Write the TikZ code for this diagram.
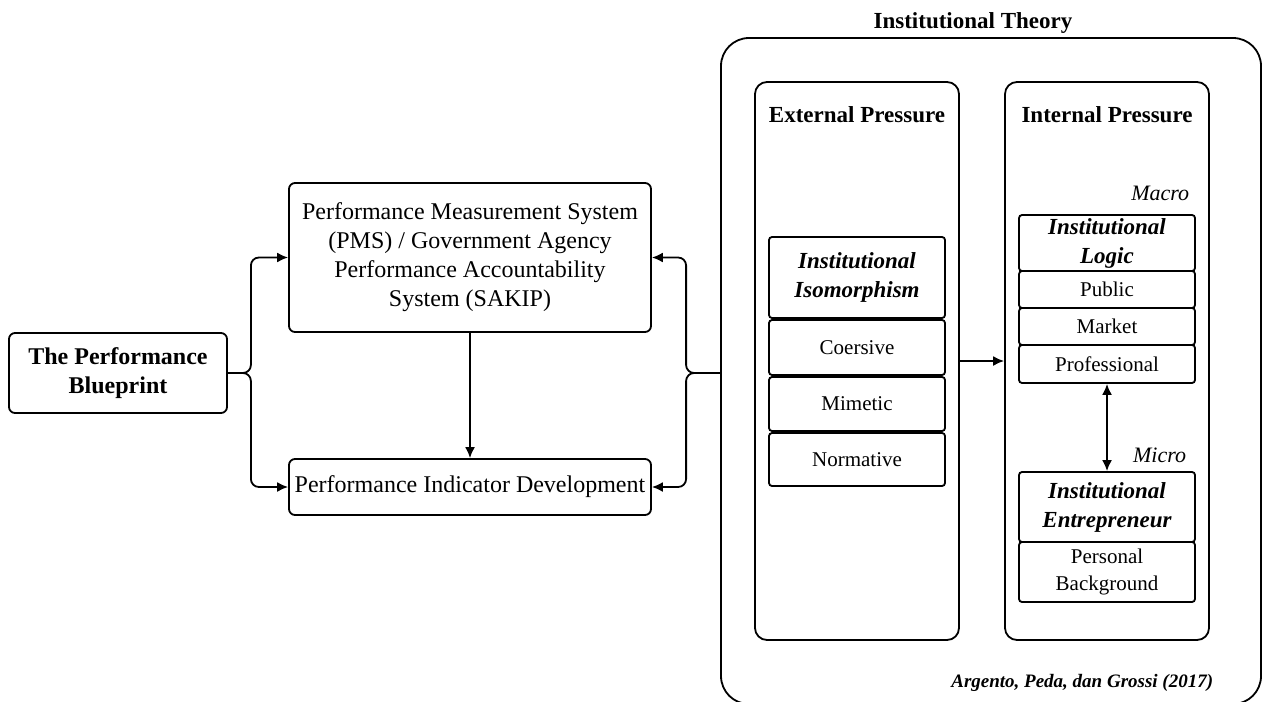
\documentclass[tikz,border=0pt]{standalone}
\usepackage{fontspec}
\setmainfont{Liberation Serif}
\usetikzlibrary{arrows.meta}
\begin{document}
\begin{tikzpicture}[x=0.5pt,y=-0.5pt,
  line width=0.9pt,
  every node/.style={inner sep=0pt, align=center},
  roundbox/.style={draw, rounded corners=3pt},
  panel/.style={draw, rounded corners=6pt, minimum width=102pt, minimum height=279pt},
  cell/.style={draw, rounded corners=1.5pt, minimum width=88pt},
  big/.style={font=\fontsize{12}{14.5}\selectfont},
  head/.style={font=\fontsize{11.5}{14.5}\selectfont\bfseries},
  keyterm/.style={font=\fontsize{11.5}{14.5}\selectfont\bfseries\itshape},
  small/.style={font=\fontsize{10.5}{13.5}\selectfont},
  level/.style={font=\fontsize{11}{13}\selectfont\itshape, anchor=east},
  arr/.style={-{Latex[length=5.5pt,width=5pt]}},
  dblarr/.style={{Latex[length=5.5pt,width=5pt]}-{Latex[length=5.5pt,width=5pt]}},
  bracket/.style={arr, rounded corners=4pt}
]
\useasboundingbox (0,0) rectangle (1262,701);

% left part: blueprint and the two performance boxes
\node[roundbox, minimum width=109pt, minimum height=40pt,
      font=\fontsize{12}{14.5}\selectfont\bfseries] (bp) at (118,373)
  {The Performance\\Blueprint};
\node[roundbox, big, minimum width=181pt, minimum height=74.5pt] (pms) at (470,257.5)
  {Performance Measurement System\\(PMS) / Government Agency\\Performance Accountability\\System (SAKIP)};
\node[roundbox, big, minimum width=181pt, minimum height=28pt] (pid) at (470,487)
  {Performance Indicator Development};

% institutional theory frame
\node[draw, rounded corners=14pt, minimum width=270pt, minimum height=333pt] (theory) at (991,371) {};
\node[head] (ttl) at (973,23) {Institutional Theory};

% external pressure column
\node[panel] (ext) at (857,361) {};
\node[head] (exttl) at (857,115) {External Pressure};
\node[cell, keyterm, minimum height=40.5pt] (iso) at (857,277.5) {Institutional\\Isomorphism};
\node[cell, small, minimum height=27.5pt] (coe) at (857,347.5) {Coersive};
\node[cell, small, minimum height=27pt] (mim) at (857,404) {Mimetic};
\node[cell, small, minimum height=26.5pt] (nor) at (857,459.5) {Normative};

% internal pressure column
\node[panel] (int) at (1107,361) {};
\node[head] (inttl) at (1107,115) {Internal Pressure};
\node[level] (macro) at (1190,193) {Macro};
\node[cell, keyterm, minimum height=28pt] (logic) at (1107,243) {Institutional\\Logic};
\node[cell, small, minimum height=18.5pt] (pub) at (1107,289.5) {Public};
\node[cell, small, minimum height=18.5pt] (mkt) at (1107,326.5) {Market};
\node[cell, small, minimum height=19pt] (prof) at (1107,364) {Professional};
\node[level] (micro) at (1187,455) {Micro};
\node[cell, keyterm, minimum height=35pt] (entr) at (1107,507) {Institutional\\Entrepreneur};
\node[cell, small, minimum height=30pt] (pers) at (1107,572) {Personal\\Background};

\node[font=\fontsize{9.5}{11}\selectfont\bfseries\itshape, anchor=east] (cite) at (1214,683)
  {Argento, Peda, dan Grossi (2017)};

% connectors
\draw[bracket] (bp.east) -- ++(23,0) |- (pms.west);
\draw[bracket] (bp.east) -- ++(23,0) |- (pid.west);
\draw[arr] (pms.south) -- (pid.north);
\coordinate (join) at (bp.east -| theory.west);
\draw[bracket] (join) -- ++(-34,0) |- (pms.east);
\draw[bracket] (join) -- ++(-34,0) |- (pid.east);
\draw[arr] (ext.east) -- (int.west);
\draw[dblarr] (prof.south) -- (entr.north);
\end{tikzpicture}
\end{document}
